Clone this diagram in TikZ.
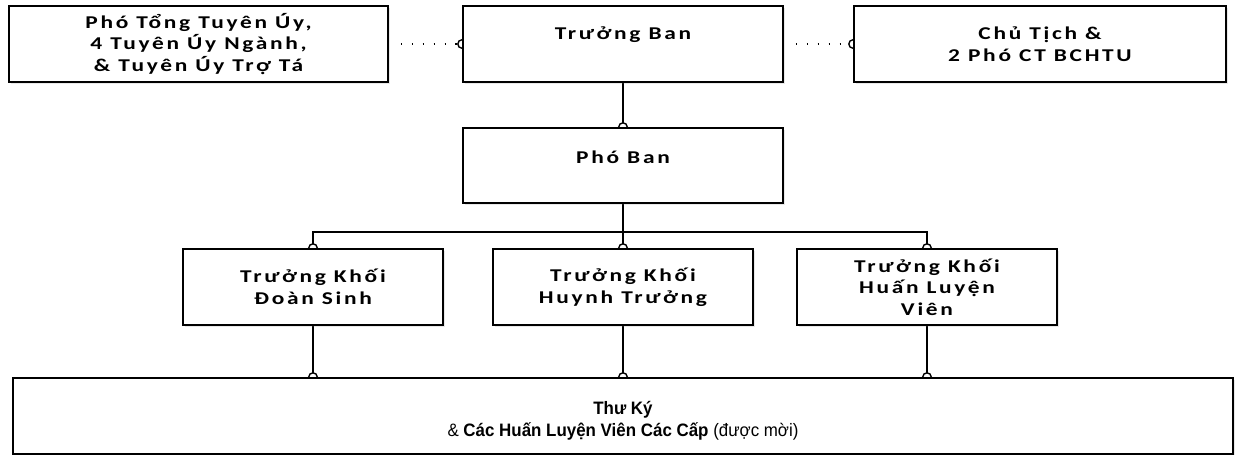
\documentclass[tikz,border=0pt]{standalone}
\usepackage{fontspec}
\setmainfont{Carlito}
\newfontfamily\widef[FakeStretch=1.3,LetterSpace=15]{Carlito}
\newfontfamily\arialf[FakeStretch=0.94]{Liberation Sans}
\usetikzlibrary{arrows.meta,backgrounds,shadows}
\begin{document}
\begin{tikzpicture}[x=1pt,y=-1pt,
  box/.style={draw=black,line width=1.8pt,fill=white,rectangle,minimum height=76pt,
    align=center,inner sep=0pt,font=\fontsize{18}{21.5}\selectfont\widef\bfseries,
    drop shadow={opacity=0.18,shadow xshift=2pt,shadow yshift=-2pt}},
  link/.style={line width=1.8pt,-{Circle[open,length=10pt,width=10pt,line width=1.4pt]},shorten >=-5pt},
  dotlink/.style={line width=1.4pt,dash pattern=on 1.4pt off 9.5pt,-{Circle[open,length=10pt,width=10pt,line width=1.4pt]},shorten >=-5pt}]
\useasboundingbox (0,0) rectangle (1235,455);
\node[box,minimum width=379pt] (a) at (198.5,44) {Phó Tổng Tuyên Úy,\\4 Tuyên Úy Ngành,\\\& Tuyên Úy Trợ Tá};
\node[box,minimum width=320pt] (tb) at (623,44) {Trưởng Ban\\~};
\node[box,minimum width=372pt] (ct) at (1040,44) {Chủ Tịch \&\\2 Phó CT BCHTU};
\node[box,minimum width=320pt,minimum height=75pt] (pb) at (623,165.5) {Phó Ban\\[-4pt]~};
\node[box,minimum width=260pt] (k1) at (313,287) {Trưởng Khối\\Đoàn Sinh};
\node[box,minimum width=260pt] (k2) at (623,287) {Trưởng Khối\\Huynh Trưởng};
\node[box,minimum width=260pt] (k3) at (927,287) {Trưởng Khối\\Huấn Luyện\\Viên};
\node[box,minimum width=1220pt,font=\fontsize{18}{22}\selectfont\arialf] (tk) at (623,416)
  {\rule{0pt}{22pt}\textbf{Thư Ký}\\\& \textbf{Các Huấn Luyện Viên Các Cấp} (được mời)};
\coordinate (bar) at (623,232);
\begin{scope}[on background layer]
\draw[dotlink] ([xshift=12pt]a.east) -- (tb.west);
\draw[dotlink] ([xshift=12pt]tb.east) -- (ct.west);
\draw[link] (tb.south) -- (pb.north);
\draw[line width=1.8pt] (pb.south) -- (bar);
\draw[link] (bar) -| (k1.north);
\draw[link] (bar) -- (k2.north);
\draw[link] (bar) -| (k3.north);
\draw[link] (k1.south) -- (k1.south |- tk.north);
\draw[link] (k2.south) -- (tk.north);
\draw[link] (k3.south) -- (k3.south |- tk.north);
\end{scope}
\end{tikzpicture}
\end{document}
